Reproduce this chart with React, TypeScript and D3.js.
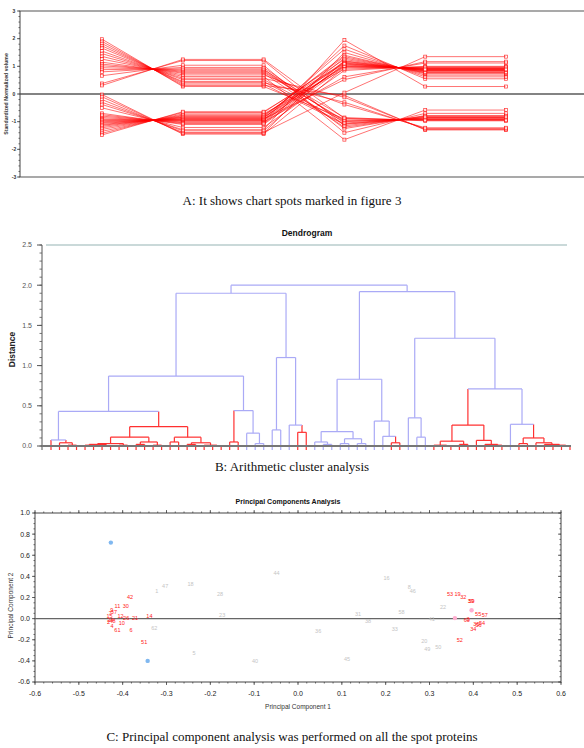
import React, { useEffect, useRef } from 'react';
import * as d3 from 'd3';

// ---------- A: standardized spot volumes across six gels ----------
const gelColumns = ['G1', 'G2', 'G3', 'G4', 'G5', 'G6'];
const volumeTicks = [3, 2, 1, 0, -1, -2, -3];

// spots high in the first three gels, low in the last three
const spotsHighFirst = [
  [1.98, 0.27, 0.27, -0.90, -0.94, -0.94],
  [1.90, 0.31, 0.31, -0.05, -1.30, -1.30],
  [1.82, 0.36, 0.36, -1.10, -0.85, -0.85],
  [1.74, 0.41, 0.41, -0.30, -1.25, -1.25],
  [1.66, 0.45, 0.45, -1.08, -0.86, -0.86],
  [1.55, 0.52, 0.52, -1.00, -0.90, -0.90],
  [1.46, 0.57, 0.57, -0.12, -1.28, -1.28],
  [1.36, 0.63, 0.63, -1.65, -0.58, -0.58],
  [1.26, 0.69, 0.69, -0.38, -1.22, -1.22],
  [1.15, 0.75, 0.75, -1.20, -0.80, -0.80],
  [1.08, 0.79, 0.79, -0.95, -0.92, -0.92],
  [1.02, 0.83, 0.83, -0.98, -0.91, -0.91],
  [0.95, 0.87, 0.87, -0.85, -0.97, -0.97],
  [0.88, 0.91, 0.91, -1.25, -0.78, -0.78],
  [0.80, 0.96, 0.96, -1.05, -0.87, -0.87],
  [0.66, 1.04, 1.04, -1.40, -0.70, -0.70],
  [0.38, 1.21, 1.21, -1.15, -0.82, -0.82],
  [0.31, 1.25, 1.25, -0.88, -0.95, -0.95],
];

// spots low in the first three gels, high in the last three
const spotsLowFirst = [
  [-0.02, -1.45, -1.45, 0.95, 0.95, 0.95],
  [-0.10, -1.42, -1.42, 1.50, 0.68, 0.68],
  [-0.20, -1.39, -1.39, 0.05, 1.35, 1.35],
  [-0.30, -1.33, -1.33, 1.20, 0.83, 0.83],
  [-0.38, -1.29, -1.29, 1.95, 0.27, 0.27],
  [-0.50, -1.21, -1.21, 0.85, 1.00, 1.00],
  [-0.70, -1.10, -1.10, 0.98, 0.94, 0.94],
  [-0.80, -1.04, -1.04, 1.30, 0.78, 0.78],
  [-0.85, -1.01, -1.01, 0.62, 1.12, 1.12],
  [-0.90, -0.98, -0.98, 1.05, 0.90, 0.90],
  [-0.93, -0.96, -0.96, 1.75, 0.55, 0.55],
  [-0.96, -0.94, -0.94, 1.02, 0.92, 0.92],
  [-1.00, -0.92, -0.92, 1.15, 0.85, 0.85],
  [-1.03, -0.90, -0.90, 0.52, 1.17, 1.17],
  [-1.06, -0.89, -0.89, 1.62, 0.62, 0.62],
  [-1.10, -0.86, -0.86, 1.18, 0.84, 0.84],
  [-1.13, -0.84, -0.84, 1.00, 0.93, 0.93],
  [-1.17, -0.82, -0.82, 1.40, 0.73, 0.73],
  [-1.22, -0.79, -0.79, 1.35, 0.76, 0.76],
  [-1.28, -0.76, -0.76, 1.10, 0.88, 0.88],
  [-1.35, -0.72, -0.72, 0.90, 0.98, 0.98],
  [-1.42, -0.67, -0.67, 1.25, 0.80, 0.80],
  [-1.48, -0.64, -0.64, 1.12, 0.87, 0.87],
  [-0.75, -1.07, -1.07, 1.08, 0.89, 0.89],
];

// ---------- B: dendrogram (merge distance, cluster colour) ----------
type DNode = { h: number; red?: boolean; id?: number; children?: DNode[] };
const lf = (id: number, red?: boolean): DNode => ({ h: 0, id, red });
const mg = (h: number, red: boolean, ...children: DNode[]): DNode => ({ h, red, children });
const R = true;
const B = false;

const dendroTree: DNode = mg(2.0, B,
  mg(1.9, B,
    mg(0.87, B,
      mg(0.43, B,
        mg(0.075, B, lf(0, R), mg(0.04, R, lf(1), mg(0.01, R, lf(2), lf(3)))),
        mg(0.24, R,
          mg(0.11, R,
            mg(0.03, R, mg(0.02, R, mg(0.01, R, lf(4), lf(5)), mg(0.005, R, lf(6), lf(7))), mg(0.01, R, lf(8), lf(9))),
            mg(0.05, R, mg(0.02, R, lf(10), lf(11)), mg(0.01, R, lf(12), lf(13)))),
          mg(0.11, R,
            mg(0.05, R, lf(14), lf(15)),
            mg(0.04, R, mg(0.02, R, lf(16), lf(17)), mg(0.01, R, lf(18), mg(0.005, R, lf(19), lf(20))))))),
      mg(0.44, B, mg(0.05, R, lf(21), lf(22)), mg(0.16, B, lf(23), mg(0.03, B, lf(24), lf(25))))),
    mg(1.1, B, mg(0.2, B, lf(26), lf(27)), mg(0.26, B, lf(28), mg(0.17, R, lf(29), lf(30))))),
  mg(1.92, B,
    mg(0.83, B,
      mg(0.18, B, mg(0.05, B, lf(31), mg(0.02, B, lf(32), lf(33))), mg(0.09, B, mg(0.03, B, lf(34), lf(35)), mg(0.03, B, lf(36), lf(37)))),
      mg(0.31, B, lf(38), mg(0.12, B, lf(39), mg(0.04, R, lf(40), lf(41))))),
    mg(1.34, B,
      mg(0.35, B, lf(42), mg(0.11, B, lf(43), lf(44))),
      mg(0.71, B,
        mg(0.26, R,
          mg(0.06, R, mg(0.01, R, lf(45), mg(0.005, R, lf(46), lf(47))), mg(0.02, R, lf(48), lf(49))),
          mg(0.07, R, lf(50), mg(0.02, R, lf(51), mg(0.01, R, lf(52), lf(53))))),
        mg(0.27, B, lf(54),
          mg(0.1, R, mg(0.03, R, lf(55), lf(56)),
            mg(0.04, R, lf(57), mg(0.02, R, lf(58), mg(0.01, R, lf(59), mg(0.005, R, lf(60), lf(61)))))))))));

const distanceTicks = [0, 0.5, 1.0, 1.5, 2.0, 2.5];

// ---------- C: PCA scores [label, PC1, PC2] ----------
const pcaRedSpots: [string, number, number][] = [
  ['42', -0.383, 0.2], ['11', -0.412, 0.12], ['30', -0.393, 0.12], ['14', -0.339, 0.02],
  ['61', -0.412, -0.11], ['6', -0.381, -0.11], ['51', -0.351, -0.22], ['26', -0.392, 0.005],
  ['12', -0.405, 0.02], ['21', -0.372, 0.005], ['10', -0.402, -0.04], ['9', -0.425, 0.08],
  ['7', -0.428, 0.05], ['15', -0.43, 0.02], ['24', -0.428, -0.01], ['2', -0.432, -0.03],
  ['37', -0.42, 0.06], ['48', -0.423, -0.02], ['4', -0.424, -0.07],
  ['53', 0.347, 0.23], ['19', 0.364, 0.23], ['32', 0.377, 0.2], ['39', 0.394, 0.17],
  ['59', 0.396, 0.165], ['55', 0.411, 0.045], ['57', 0.426, 0.03], ['60', 0.385, -0.01],
  ['3', 0.388, -0.005], ['35', 0.407, -0.05], ['54', 0.42, -0.04], ['56', 0.412, -0.06],
  ['34', 0.4, -0.1], ['52', 0.369, -0.2],
];
const pcaGraySpots: [string, number, number][] = [
  ['44', -0.049, 0.43], ['47', -0.303, 0.31], ['1', -0.322, 0.26], ['18', -0.245, 0.33],
  ['28', -0.178, 0.23], ['23', -0.173, 0.03], ['62', -0.328, -0.09], ['5', -0.237, -0.33],
  ['40', -0.098, -0.4], ['16', 0.202, 0.38], ['8', 0.254, 0.3], ['46', 0.262, 0.26],
  ['22', 0.331, 0.11], ['58', 0.236, 0.06], ['31', 0.137, 0.045], ['38', 0.16, -0.02],
  ['41', 0.305, 0.0], ['36', 0.046, -0.12], ['33', 0.221, -0.1], ['20', 0.288, -0.21],
  ['49', 0.295, -0.29], ['50', 0.32, -0.27], ['45', 0.112, -0.38],
];
const pcaBlueDots: [number, number][] = [[-0.427, 0.72], [-0.343, -0.4]];
const pcaPinkDots: [number, number][] = [[0.396, 0.08], [0.358, 0.005]];

const SANS = '"Liberation Sans", Arial, sans-serif';
const SERIF = '"Liberation Serif", "Times New Roman", serif';
const fmt1 = (v: number) => v.toFixed(1);

function drawProfiles(g: any) {
  const x = d3.scalePoint<string>().domain(gelColumns).range([102, 506]);
  const y = d3.scaleLinear().domain([-3, 3]).range([177, 11]);

  [3, 0, -3].forEach(v => {
    g.append('line').attr('x1', 20).attr('x2', 584).attr('y1', y(v)).attr('y2', y(v))
      .attr('stroke', v === 0 ? '#5a5a5a' : '#8c8c8c').attr('stroke-width', 1.5);
  });
  g.append('line').attr('x1', 20).attr('x2', 20).attr('y1', y(3)).attr('y2', y(-3))
    .attr('stroke', '#444').attr('stroke-width', 1);

  // minor ticks
  g.selectAll('.minor').data(y.ticks(30)).enter().append('line')
    .attr('x1', 18.5).attr('x2', 20).attr('y1', (d: number) => y(d)).attr('y2', (d: number) => y(d))
    .attr('stroke', '#444').attr('stroke-width', 0.8);
  g.selectAll('.major').data(volumeTicks).enter().append('line')
    .attr('x1', 17).attr('x2', 20).attr('y1', (d: number) => y(d)).attr('y2', (d: number) => y(d))
    .attr('stroke', '#444').attr('stroke-width', 0.8);
  g.selectAll('.tl').data(volumeTicks).enter().append('text')
    .attr('x', 14).attr('y', (d: number) => y(d)).attr('dy', '0.35em')
    .attr('text-anchor', 'middle').attr('font-family', SANS).attr('font-size', 5)
    .attr('font-weight', 'bold').attr('fill', '#333').text((d: number) => String(d));
  g.append('text').attr('transform', `translate(7.5,${y(0)}) rotate(-90)`)
    .attr('text-anchor', 'middle').attr('font-family', SANS).attr('font-size', 5.2)
    .attr('font-weight', 'bold').attr('fill', '#333').text('Standardized Normalized volume');

  const line = d3.line<number>().x((_, i) => x(gelColumns[i]) as number).y(d => y(d));
  const all = [...spotsHighFirst, ...spotsLowFirst];
  g.selectAll('.prof').data(all).enter().append('path')
    .attr('d', (d: number[]) => line(d)).attr('fill', 'none')
    .attr('stroke', '#ff0000').attr('stroke-opacity', 0.55).attr('stroke-width', 1);
  all.forEach(p => {
    g.selectAll(null).data(p).enter().append('rect')
      .attr('x', (_: number, i: number) => (x(gelColumns[i]) as number) - 1.5)
      .attr('y', (d: number) => y(d) - 1.5).attr('width', 3).attr('height', 3)
      .attr('fill', '#fff').attr('fill-opacity', 0.6)
      .attr('stroke', '#ff0000').attr('stroke-opacity', 0.8).attr('stroke-width', 0.7);
  });

  g.append('text').attr('x', 292).attr('y', 205).attr('text-anchor', 'middle')
    .attr('font-family', SERIF).attr('font-size', 13).attr('fill', '#111')
    .text('A: It shows chart spots marked in figure 3');
}

function drawDendrogram(g: any) {
  const root = d3.hierarchy<DNode>(dendroTree);
  const leaves = root.leaves();
  const x = d3.scalePoint<string>().domain(leaves.map(l => String(l.data.id))).range([51, 570]);
  const y = d3.scaleLinear().domain([0, 2.5]).range([446, 245]);
  const BLUE = '#aaaaf6';
  const RED = '#ff3030';

  g.append('line').attr('x1', 46).attr('x2', 567).attr('y1', y(2.5)).attr('y2', y(2.5))
    .attr('stroke', '#b9cccc').attr('stroke-width', 1.5);

  const pos = new Map<any, number>();
  root.eachAfter((n: any) => {
    if (!n.children) pos.set(n, x(String(n.data.id)) as number);
    else pos.set(n, (pos.get(n.children[0])! + pos.get(n.children[n.children.length - 1])!) / 2);
  });
  const red = new Map<any, boolean>();
  root.eachBefore((n: any) => {
    const r = n.data.red;
    red.set(n, r === undefined ? (n.parent ? red.get(n.parent)! : false) : r);
  });

  const links = root.links();
  g.selectAll('.vl').data(links).enter().append('line')
    .attr('x1', (l: any) => pos.get(l.target)).attr('x2', (l: any) => pos.get(l.target))
    .attr('y1', (l: any) => y(l.source.data.h))
    .attr('y2', (l: any) => (l.target.children ? y(l.target.data.h) : y(0) + 4))
    .attr('stroke', (l: any) => (red.get(l.target) ? RED : BLUE)).attr('stroke-width', 1.2);
  g.selectAll('.hl').data(root.descendants().filter((n: any) => n.children)).enter().append('line')
    .attr('x1', (n: any) => pos.get(n.children[0])).attr('x2', (n: any) => pos.get(n.children[n.children.length - 1]))
    .attr('y1', (n: any) => y(n.data.h)).attr('y2', (n: any) => y(n.data.h))
    .attr('stroke', (n: any) => (red.get(n) ? RED : BLUE)).attr('stroke-width', 1.2);

  // axis
  g.append('line').attr('x1', 42).attr('x2', 42).attr('y1', y(2.5)).attr('y2', y(0) + 4)
    .attr('stroke', '#555').attr('stroke-width', 1);
  g.append('line').attr('x1', 42).attr('x2', 571).attr('y1', y(0)).attr('y2', y(0))
    .attr('stroke', '#777').attr('stroke-width', 2);
  g.selectAll('.mt').data(y.ticks(25)).enter().append('line')
    .attr('x1', 39.5).attr('x2', 42).attr('y1', (d: number) => y(d)).attr('y2', (d: number) => y(d))
    .attr('stroke', '#555').attr('stroke-width', 0.8);
  g.selectAll('.Mt').data(distanceTicks).enter().append('line')
    .attr('x1', 37).attr('x2', 42).attr('y1', (d: number) => y(d)).attr('y2', (d: number) => y(d))
    .attr('stroke', '#555').attr('stroke-width', 1);
  g.selectAll('.tl').data(distanceTicks).enter().append('text')
    .attr('x', 32).attr('y', (d: number) => y(d)).attr('dy', '0.35em').attr('text-anchor', 'end')
    .attr('font-family', SANS).attr('font-size', 7).attr('fill', '#555').text(fmt1);
  g.append('text').attr('transform', `translate(15,${y(1.25) + 4}) rotate(-90)`)
    .attr('text-anchor', 'middle').attr('font-family', SANS).attr('font-size', 8.5)
    .attr('font-weight', 'bold').attr('fill', '#222').text('Distance');
  g.append('text').attr('x', 307).attr('y', 236).attr('text-anchor', 'middle')
    .attr('font-family', SANS).attr('font-size', 8.5).attr('font-weight', 'bold')
    .attr('fill', '#111').text('Dendrogram');

  g.append('text').attr('x', 292).attr('y', 471).attr('text-anchor', 'middle')
    .attr('font-family', SERIF).attr('font-size', 13).attr('fill', '#111')
    .text('B: Arithmetic cluster analysis');
}

function drawPca(g: any) {
  const x = d3.scaleLinear().domain([-0.6, 0.6]).range([35, 561]);
  const y = d3.scaleLinear().domain([-0.6, 1.0]).range([682, 513]);
  const AX = '#444';

  g.append('rect').attr('x', x(-0.6)).attr('y', y(1)).attr('width', x(0.6) - x(-0.6))
    .attr('height', y(-0.6) - y(1)).attr('fill', 'none').attr('stroke', AX).attr('stroke-width', 1);
  g.append('line').attr('x1', x(-0.6)).attr('x2', x(0.6)).attr('y1', y(0)).attr('y2', y(0))
    .attr('stroke', '#666').attr('stroke-width', 1.4);

  const xMinor = x.ticks(60);
  const xMajor = x.ticks(12);
  const yMinor = y.ticks(40);
  const yMajor = y.ticks(8);
  const tick = (data: number[], len: number, axis: 'b' | 't' | 'l' | 'r') => {
    g.selectAll(null).data(data).enter().append('line')
      .attr('x1', (d: number) => (axis === 'l' ? x(-0.6) - len : axis === 'r' ? x(0.6) - len : x(d)))
      .attr('x2', (d: number) => (axis === 'l' ? x(-0.6) : axis === 'r' ? x(0.6) : x(d)))
      .attr('y1', (d: number) => (axis === 'b' ? y(-0.6) : axis === 't' ? y(1) - len : y(d)))
      .attr('y2', (d: number) => (axis === 'b' ? y(-0.6) + len : axis === 't' ? y(1) : y(d)))
      .attr('stroke', AX).attr('stroke-width', 0.8);
  };
  tick(xMinor, 1.5, 'b'); tick(xMajor, 3, 'b');
  tick(xMinor, 1.5, 't'); tick(xMajor, 3, 't');
  tick(yMinor, 1.5, 'l'); tick(yMajor, 3, 'l');
  tick(yMinor, 1.5, 'r'); tick(yMajor, 3, 'r');

  g.selectAll('.xl').data(xMajor).enter().append('text')
    .attr('x', (d: number) => x(d)).attr('y', 696).attr('text-anchor', 'middle')
    .attr('font-family', SANS).attr('font-size', 7).attr('fill', '#222').text(fmt1);
  g.selectAll('.yl').data(yMajor).enter().append('text')
    .attr('x', 30).attr('y', (d: number) => y(d)).attr('dy', '0.35em').attr('text-anchor', 'end')
    .attr('font-family', SANS).attr('font-size', 7).attr('fill', '#222').text(fmt1);
  g.append('text').attr('x', 298).attr('y', 709).attr('text-anchor', 'middle')
    .attr('font-family', SANS).attr('font-size', 6.5).attr('fill', '#333').text('Principal Component 1');
  g.append('text').attr('transform', `translate(13,${y(0.2) + 8}) rotate(-90)`)
    .attr('text-anchor', 'middle').attr('font-family', SANS).attr('font-size', 6.5)
    .attr('fill', '#333').text('Principal Component 2');
  g.append('text').attr('x', 288).attr('y', 504).attr('text-anchor', 'middle')
    .attr('font-family', SANS).attr('font-size', 7).attr('font-weight', 'bold')
    .attr('fill', '#111').text('Principal Components Analysis');

  const labels = (data: [string, number, number][], color: string) => {
    g.selectAll(null).data(data).enter().append('text')
      .attr('x', (d: [string, number, number]) => x(d[1])).attr('y', (d: [string, number, number]) => y(d[2]))
      .attr('dy', '0.35em').attr('text-anchor', 'middle').attr('font-family', SANS)
      .attr('font-size', 5.5).attr('fill', color).text((d: [string, number, number]) => d[0]);
  };
  labels(pcaGraySpots, '#c4c4c4');
  labels(pcaRedSpots, '#ff1a1a');
  const dots = (data: [number, number][], color: string) => {
    g.selectAll(null).data(data).enter().append('circle')
      .attr('cx', (d: [number, number]) => x(d[0])).attr('cy', (d: [number, number]) => y(d[1]))
      .attr('r', 2.2).attr('fill', color);
  };
  dots(pcaBlueDots, '#80b8f0');
  dots(pcaPinkDots, '#ffaed0');

  g.append('text').attr('x', 292).attr('y', 741).attr('text-anchor', 'middle')
    .attr('font-family', SERIF).attr('font-size', 13).attr('fill', '#111')
    .text('C: Principal component analysis was performed on all the spot proteins');
}

export default function App() {
  const svgRef = useRef<SVGSVGElement>(null);

  useEffect(() => {
    const svg = d3.select(svgRef.current);
    svg.selectAll('*').remove();
    drawProfiles(svg.append('g'));
    drawDendrogram(svg.append('g'));
    drawPca(svg.append('g'));
  }, []);

  return (
    <svg
      ref={svgRef}
      width={584}
      height={748}
      style={{ position: 'absolute', left: 0, top: 0, background: '#fff', display: 'block' }}
    />
  );
}
